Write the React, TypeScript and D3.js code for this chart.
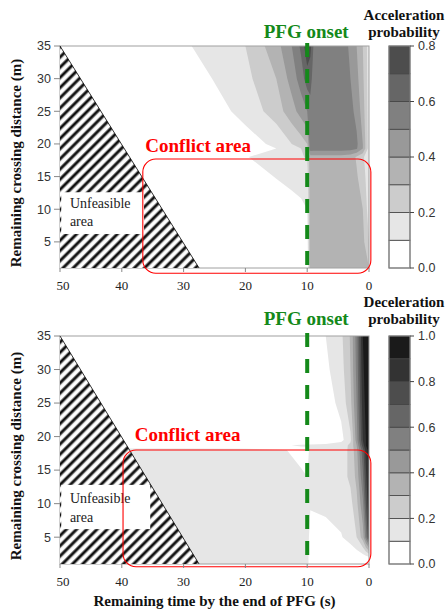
import React from "react";
import * as d3 from "d3";

// grid columns: remaining time (s); grid rows: remaining crossing distance (m)
const accelTimes = [0, 1, 2, 3, 4.5, 9, 9.5, 10, 11, 12.5, 15, 20, 30, 50];
const accelDists = [1, 5, 10, 15, 18, 19.3, 20, 25, 30, 35];
const accelProb = [
  [0.30, 0.35, 0.36, 0.36, 0.36, 0.36, 0.36, 0.00, 0.00, 0.00, 0.00, 0.00, 0.00, 0],
  [0.20, 0.33, 0.35, 0.36, 0.36, 0.36, 0.36, 0.05, 0.02, 0.00, 0.00, 0.00, 0.00, 0],
  [0.15, 0.30, 0.34, 0.36, 0.36, 0.36, 0.36, 0.10, 0.08, 0.06, 0.03, 0.00, 0.00, 0],
  [0.13, 0.25, 0.31, 0.35, 0.36, 0.36, 0.36, 0.15, 0.14, 0.13, 0.105, 0.05, 0.00, 0],
  [0.12, 0.22, 0.29, 0.34, 0.36, 0.36, 0.36, 0.21, 0.19, 0.17, 0.14, 0.095, 0.02, 0],
  [0.15, 0.40, 0.51, 0.54, 0.55, 0.55, 0.56, 0.25, 0.20, 0.15, 0.10, 0.04, 0.00, 0],
  [0.15, 0.40, 0.52, 0.55, 0.56, 0.56, 0.57, 0.30, 0.25, 0.20, 0.12, 0.06, 0.00, 0],
  [0.15, 0.35, 0.47, 0.53, 0.56, 0.57, 0.58, 0.50, 0.44, 0.36, 0.25, 0.13, 0.00, 0],
  [0.15, 0.32, 0.43, 0.50, 0.56, 0.58, 0.62, 0.65, 0.55, 0.44, 0.30, 0.17, 0.04, 0],
  [0.15, 0.30, 0.40, 0.48, 0.56, 0.60, 0.74, 0.78, 0.62, 0.50, 0.36, 0.20, 0.085, 0],
];

const decelTimes = [0, 0.5, 1, 2, 3, 4.5, 7, 9.5, 10, 11, 13.3, 20, 30, 50];
const decelDists = [1, 2, 5, 10, 14, 18, 18.7, 19.5, 25, 30, 35];
const decelProb = [
  [0.04, 0.04, 0.04, 0.04, 0.04, 0.04, 0.03, 0.03, 0.15, 0.15, 0.15, 0.15, 0.15, 0.15],
  [0.08, 0.06, 0.05, 0.04, 0.04, 0.04, 0.03, 0.03, 0.15, 0.15, 0.15, 0.15, 0.15, 0.15],
  [0.78, 0.55, 0.35, 0.20, 0.13, 0.095, 0.07, 0.06, 0.15, 0.15, 0.15, 0.15, 0.15, 0.15],
  [0.88, 0.70, 0.48, 0.27, 0.17, 0.13, 0.12, 0.11, 0.14, 0.14, 0.14, 0.15, 0.15, 0.15],
  [0.92, 0.78, 0.58, 0.33, 0.22, 0.16, 0.14, 0.13, 0.10, 0.115, 0.13, 0.15, 0.15, 0.15],
  [0.95, 0.84, 0.66, 0.37, 0.22, 0.16, 0.14, 0.13, 0.06, 0.07, 0.10, 0.14, 0.15, 0.15],
  [0.97, 0.90, 0.75, 0.40, 0.22, 0.15, 0.13, 0.12, 0.12, 0.11, 0.095, 0.00, 0.00, 0.00],
  [0.97, 0.90, 0.80, 0.45, 0.18, 0.07, 0.00, 0.00, 0.00, 0.00, 0.00, 0.00, 0.00, 0.00],
  [0.98, 0.93, 0.85, 0.50, 0.27, 0.13, 0.05, 0.01, 0.00, 0.00, 0.00, 0.00, 0.00, 0.00],
  [0.99, 0.94, 0.88, 0.53, 0.30, 0.16, 0.08, 0.02, 0.00, 0.00, 0.00, 0.00, 0.00, 0.00],
  [0.99, 0.95, 0.90, 0.55, 0.31, 0.18, 0.10, 0.02, 0.00, 0.00, 0.00, 0.00, 0.00, 0.00],
];

const timeTicks = [50, 40, 30, 20, 10, 0];
const distTicks = [5, 10, 15, 20, 25, 30, 35];
const accelLegendTicks = [0, 0.2, 0.4, 0.6, 0.8];
const decelLegendTicks = [0, 0.2, 0.4, 0.6, 0.8, 1.0];
const hatchTimes = [50, 50, 27.5];
const hatchDists = [35, 1, 1];
const pfgTime = 10;

const GREEN = "#14891a";
const serif = "'Liberation Serif', 'Times New Roman', serif";
const sans = "'Liberation Sans', Arial, sans-serif";

const x = d3.scaleLinear().domain([50, 0]).range([60, 369]);

function Panel(props: any) {
  const { id, y0, y1, times, dists, prob, maxP, legendTicks, legendTitle, conflict, unfeasible, onsetY, titleY } = props;
  const y = d3.scaleLinear().domain([1, 35]).range([y1, y0]);
  const n = times.length;
  const m = dists.length;
  const bands = d3.range(Math.round(maxP * 10)).map((i) => i / 10);
  const contours = d3.contours().size([n, m]).thresholds(bands)(prob.flat());
  const iT = d3.scaleLinear().domain(d3.range(n)).range(times).clamp(true);
  const iD = d3.scaleLinear().domain(d3.range(m)).range(dists).clamp(true);
  const path = d3.geoPath(
    d3.geoTransform({
      point(px: number, py: number) {
        (this as any).stream.point(x(iT(px - 0.5)), y(iD(py - 0.5)));
      },
    })
  );
  const gray = (t: number) => d3.interpolateRgb("#ffffff", "#000000")(t);

  const lg = d3.scaleLinear().domain([0, maxP]).range([y1, y0]);
  const lx0 = 389;
  const lx1 = 410;

  const hatch = hatchTimes.map((t, i) => [x(t), y(hatchDists[i])].join(",")).join(" ");
  const xL = x(0) - x(50);

  return (
    <g>
      <defs>
        <clipPath id={`clip-${id}`}>
          <rect x={x(50)} y={y0} width={xL} height={y1 - y0} />
        </clipPath>
      </defs>
      <g clipPath={`url(#clip-${id})`}>
        {contours.map((c, i) => (
          <path key={i} d={path(c as any) || ""} fill={gray(c.value)} stroke="none" />
        ))}
      </g>
      <rect x={x(50)} y={y0} width={xL} height={y1 - y0} fill="none" stroke="#a0a0a0" strokeWidth={1} />

      {/* unfeasible triangle */}
      <polygon points={hatch} fill="url(#hatch)" />
      <line x1={x(hatchTimes[0])} y1={y(hatchDists[0])} x2={x(hatchTimes[2])} y2={y(hatchDists[2])} stroke="#000" strokeWidth={0.8} />
      <rect x={x(unfeasible.t0)} y={y(unfeasible.d0)} width={x(unfeasible.t1) - x(unfeasible.t0)} height={y(unfeasible.d1) - y(unfeasible.d0)} fill="#fff" />
      <text x={x(48.4)} y={y(unfeasible.l1)} fontFamily={serif} fontSize={14} fill="#222">Unfeasible</text>
      <text x={x(48.4)} y={y(unfeasible.l2)} fontFamily={serif} fontSize={14} fill="#222">area</text>

      {/* conflict area */}
      <rect x={x(conflict.t0)} y={y(conflict.d0)} width={x(conflict.t1) - x(conflict.t0)} height={y(conflict.d1) - y(conflict.d0)} rx={13} ry={13} fill="none" stroke="#ff0000" strokeWidth={1.1} />
      <text x={x(conflict.tt)} y={y(conflict.dt)} fontFamily={serif} fontWeight="bold" fontSize={19} fill="#ff0000">Conflict area</text>

      {/* PFG onset */}
      <line x1={x(pfgTime)} x2={x(pfgTime)} y1={y0 - 3} y2={y1} stroke={GREEN} strokeWidth={4} strokeDasharray="14 12" />
      <text x={x(pfgTime) - 1} y={y0 + onsetY} textAnchor="middle" fontFamily={serif} fontWeight="bold" fontSize={19} fill={GREEN}>PFG onset</text>

      {/* x axis */}
      {timeTicks.map((t) => (
        <g key={t}>
          <line x1={x(t)} x2={x(t)} y1={y1} y2={y1 + 4} stroke="#888" />
          <text x={x(t) + (t === 50 ? 3 : 0)} y={y1 + 22} textAnchor="middle" fontFamily={serif} fontSize={13} fill="#222">{t}</text>
        </g>
      ))}
      {/* y axis */}
      {distTicks.map((d) => (
        <g key={d}>
          <line x1={x(50) - 6} x2={x(50)} y1={y(d)} y2={y(d)} stroke="#888" />
          <text x={51} y={y(d)} dy="0.35em" textAnchor="end" fontFamily={sans} fontSize={12.5} fill="#333">{d}</text>
        </g>
      ))}
      <text transform={`translate(21,${(y0 + y1) / 2 + 6}) rotate(-90)`} textAnchor="middle" fontFamily={serif} fontWeight="bold" fontSize={15} fill="#111">
        Remaining crossing distance (m)
      </text>

      {/* legend */}
      {bands.map((b) => (
        <rect key={b} x={lx0} width={lx1 - lx0} y={lg(b + 0.1)} height={lg(b) - lg(b + 0.1)} fill={gray(b)} stroke="#444" strokeWidth={0.8} />
      ))}
      <rect x={lx0} y={y0} width={lx1 - lx0} height={y1 - y0} fill="none" stroke="#888" strokeWidth={1} />
      {legendTicks.map((t: number) => (
        <g key={t}>
          <line x1={lx1} x2={lx1 + 4} y1={lg(t)} y2={lg(t)} stroke="#444" />
          <text x={418} y={lg(t)} dy="0.35em" fontFamily={sans} fontSize={12.5} fill="#333">{t.toFixed(1)}</text>
        </g>
      ))}
      <text x={404} y={y0 + titleY[0]} textAnchor="middle" fontFamily={serif} fontWeight="bold" fontSize={15} fill="#111">{legendTitle}</text>
      <text x={404} y={y0 + titleY[1]} textAnchor="middle" fontFamily={serif} fontWeight="bold" fontSize={15} fill="#111">probability</text>
    </g>
  );
}

export default function App() {
  return (
    <svg width={448} height={612} style={{ position: "absolute", left: 0, top: 0, background: "#fff" }}>
      <defs>
        <linearGradient id="stripeGrad" x1="0" x2="1" y1="0" y2="0">
          <stop offset="0" stopColor="#fff" />
          <stop offset="0.18" stopColor="#fff" />
          <stop offset="0.42" stopColor="#111" />
          <stop offset="0.6" stopColor="#111" />
          <stop offset="0.84" stopColor="#fff" />
          <stop offset="1" stopColor="#fff" />
        </linearGradient>
        <pattern id="hatch" patternUnits="userSpaceOnUse" width={7.2} height={7.2} patternTransform="rotate(45)">
          <rect x={0} y={0} width={7.2} height={7.2} fill="url(#stripeGrad)" />
        </pattern>
      </defs>
      <Panel
        id="acc"
        y0={46}
        y1={268}
        times={accelTimes}
        dists={accelDists}
        prob={accelProb}
        maxP={0.8}
        legendTicks={accelLegendTicks}
        legendTitle="Acceleration"
        conflict={{ t0: 36.6, t1: -0.3, d0: 17.7, d1: 0.2, tt: 36.2, dt: 18.8 }}
        unfeasible={{ t0: 49.8, t1: 36.4, d0: 12.6, d1: 6.2, l1: 10.2, l2: 7.4 }}
        onsetY={-8}
        titleY={[-26, -9]}
      />
      <Panel
        id="dec"
        y0={336}
        y1={564}
        times={decelTimes}
        dists={decelDists}
        prob={decelProb}
        maxP={1.0}
        legendTicks={decelLegendTicks}
        legendTitle="Deceleration"
        conflict={{ t0: 39.8, t1: -0.3, d0: 18.0, d1: 0.6, tt: 37.9, dt: 19.3 }}
        unfeasible={{ t0: 49.8, t1: 35.4, d0: 12.8, d1: 6.2, l1: 10.1, l2: 7.3 }}
        onsetY={-11}
        titleY={[-29, -12]}
      />
      <text x={x(25)} y={606} textAnchor="middle" fontFamily={serif} fontWeight="bold" fontSize={15} fill="#111">
        Remaining time by the end of PFG (s)
      </text>
    </svg>
  );
}
